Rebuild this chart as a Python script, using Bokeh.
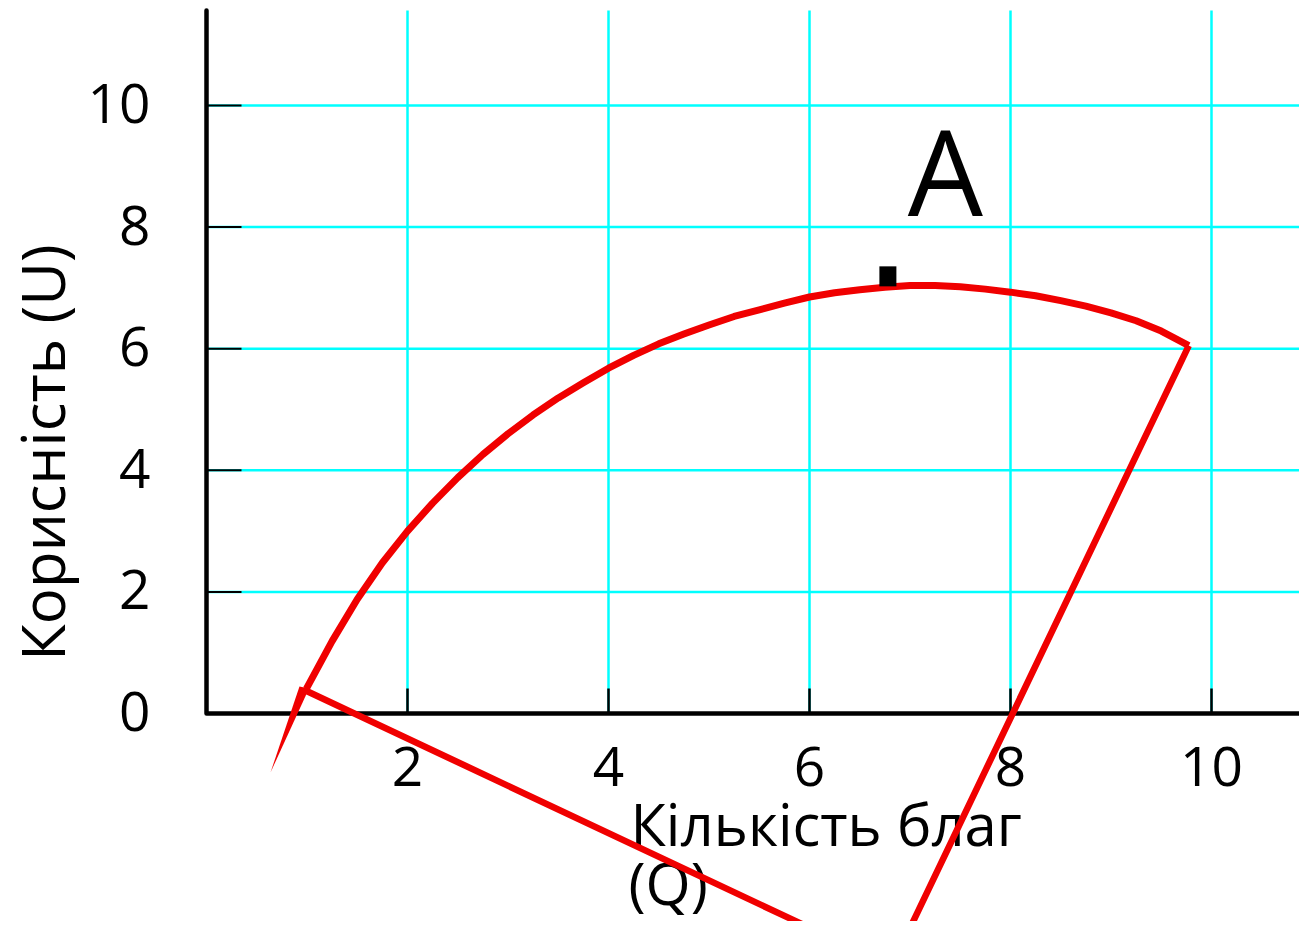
import math
from bokeh.plotting import figure
from bokeh.models import Range1d
from bokeh.core.properties import value
from bokeh.embed import file_html
from bokeh.resources import INLINE

# ---- data ----
x_ticks = [2, 4, 6, 8, 10]
x_tick_labels = ["2", "4", "6", "8", "10"]
y_ticks = [0, 2, 4, 6, 8, 10]
y_tick_labels = ["0", "2", "4", "6", "8", "10"]

curve_q = [0.993, 1.25, 1.5, 1.75, 2.0, 2.25, 2.5, 2.75, 3.0, 3.25, 3.5, 3.75,
           4.0, 4.25, 4.5, 4.75, 5.0, 5.25, 5.5, 5.75, 6.0, 6.25, 6.5, 6.75,
           7.0, 7.25, 7.5, 7.75, 8.0, 8.25, 8.5, 8.75, 9.0, 9.25, 9.5, 9.774]
curve_u = [0.406, 1.19, 1.88, 2.48, 3.0, 3.46, 3.88, 4.26, 4.60, 4.91, 5.19, 5.44,
           5.68, 5.89, 6.08, 6.24, 6.39, 6.53, 6.64, 6.75, 6.85, 6.92, 6.97, 7.01,
           7.04, 7.04, 7.02, 6.98, 6.93, 6.87, 6.79, 6.70, 6.59, 6.46, 6.29, 6.05]

# straight segments: from curve end down to the meeting point and back to curve start
line_q = [9.774, 6.818, 0.985]
line_u = [6.05, -4.158, 0.378]

# thin tapered tail below the curve start
tail_q = [0.637, 0.925, 1.02]
tail_u = [-0.970, 0.444, 0.411]

point_A_q = [6.78]
point_A_u = [7.19]
point_A_label = ["A"]

x_label_lines = ["Кількість благ", "(Q)"]
y_label = "Корисність (U)"

FONT = "Open Sans"
RED = "#f00000"
CYAN = "#00ffff"

# pixel mapping (figure pixels): x=0 at px 206, 100.5 px/unit ; y=0 at px 713, 60.8 px/unit
W, H = 1299, 921
x_range = Range1d((0 - 206) / 100.5, (W - 206) / 100.5)
y_range = Range1d((713 - H) / 60.8, (713 - 0) / 60.8)

p = figure(width=W, height=H, x_range=x_range, y_range=y_range,
           output_backend="svg", toolbar_location=None, min_border=0,
           outline_line_color=None, background_fill_color="white",
           border_fill_color="white")
p.axis.visible = False
p.grid.visible = False

y_top = (713 - 10) / 60.8
x_right = 11.3
ytick_len = 35 / 100.5
xtick_len = 25 / 60.8

# grid
p.segment(x0=[0] * 5, y0=y_ticks[1:], x1=[x_right] * 5, y1=y_ticks[1:],
          line_color=CYAN, line_width=2.5)
p.segment(x0=x_ticks, y0=[0] * 5, x1=x_ticks, y1=[y_top] * 5,
          line_color=CYAN, line_width=2.5)

# ticks (inward)
p.segment(x0=[0] * 5, y0=y_ticks[1:], x1=[ytick_len] * 5, y1=y_ticks[1:],
          line_color="black", line_width=2)
p.segment(x0=x_ticks, y0=[0] * 5, x1=x_ticks, y1=[xtick_len] * 5,
          line_color="black", line_width=2.5)

# axis lines
p.line(x=[0, 0, x_right], y=[y_top, 0, 0], line_color="black", line_width=4.5,
       line_join="round", line_cap="round")

# tick labels
p.text(x=[(150 - 206) / 100.5] * len(y_ticks), y=y_ticks, text=y_tick_labels,
       text_font=value(FONT), text_font_size="55px", text_align="right",
       text_baseline="alphabetic", y_offset=-2, text_color="black")
p.text(x=x_ticks, y=[0] * len(x_ticks), text=x_tick_labels,
       text_font=value(FONT), text_font_size="55px", text_align="center",
       text_baseline="alphabetic", y_offset=53, text_color="black")

# axis titles
p.text(x=[(630 - 206) / 100.5, (628 - 206) / 100.5],
       y=[(713 - 823) / 60.8, (713 - 882) / 60.8], text=x_label_lines,
       text_font=value(FONT), text_font_size="58px", text_align="left",
       text_baseline="alphabetic", text_color="black")
p.text(x=[(41 - 206) / 100.5], y=[(713 - 452) / 60.8], text=[y_label],
       angle=math.pi / 2, text_font=value(FONT), text_font_size="60px",
       text_align="center", text_baseline="alphabetic", text_color="black")

# red figure
p.patch(x=tail_q, y=tail_u, fill_color=RED, line_color=None)
p.line(x=curve_q, y=curve_u, line_color=RED, line_width=7, line_join="round")
p.line(x=line_q, y=line_u, line_color=RED, line_width=6.5, line_join="miter",
       line_cap="butt")

# point A
p.rect(x=point_A_q, y=point_A_u, width=17, height=20, width_units="screen",
       height_units="screen", fill_color="black", line_color=None)
p.text(x=[7.353], y=[(713 - 169) / 60.8], text=point_A_label,
       text_font=value(FONT), text_font_size="119px", text_align="center",
       text_baseline="alphabetic", text_color="black")

open("out.html", "w").write(file_html(p, INLINE))
